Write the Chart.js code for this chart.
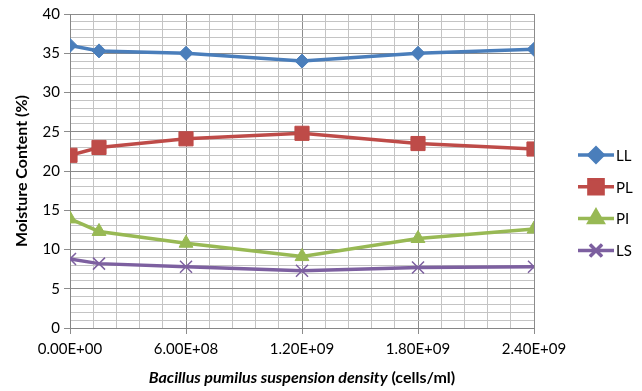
<!DOCTYPE html>
<html>
<head>
<meta charset="utf-8">
<script src="https://cdn.jsdelivr.net/npm/chart.js@4"></script>
<style>
  body { margin: 0; background: #fff; }
  #wrap { width: 642px; height: 391px; position: relative; }
</style>
</head>
<body>
<div id="wrap"><canvas id="moistureChart"></canvas></div>
<script>
// Suspension density (cells/ml)
const densities = [0, 1.5e8, 6e8, 1.2e9, 1.8e9, 2.4e9];

// Moisture content (%) per series
const llValues = [36.0, 35.3, 35.0, 34.0, 35.0, 35.5];
const plValues = [22.0, 23.0, 24.1, 24.8, 23.5, 22.8];
const piValues = [13.9, 12.3, 10.8, 9.1, 11.4, 12.6];
const lsValues = [8.8, 8.2, 7.8, 7.3, 7.7, 7.8];

const seriesNames = ["LL", "PL", "PI", "LS"];
const xTickLabels = ["0.00E+00", "6.00E+08", "1.20E+09", "1.80E+09", "2.40E+09"];

const FONT = "Lato, 'Liberation Sans', sans-serif";

function toPoints(values) {
  return values.map((v, i) => ({ x: densities[i], y: v }));
}

// Legend with line + marker, drawn to the right of the plot
const sideLegend = {
  id: "sideLegend",
  afterDraw(chart) {
    const ctx = chart.ctx;
    ctx.save();
    chart.data.datasets.forEach((ds, i) => {
      const y = 155 + i * 31.8;
      ctx.strokeStyle = ds.borderColor;
      ctx.lineWidth = 3.5;
      ctx.beginPath();
      ctx.moveTo(578, y);
      ctx.lineTo(614, y);
      ctx.stroke();
      Chart.helpers.drawPoint(ctx, {
        pointStyle: ds.pointStyle,
        radius: ds.pointRadius,
        borderWidth: ds.pointBorderWidth,
        rotation: 0
      }, 596, y);
      ctx.fillStyle = ds.borderColor;
      ctx.strokeStyle = ds.borderColor;
      ctx.lineWidth = ds.pointBorderWidth;
      ctx.fill();
      ctx.stroke();
      ctx.fillStyle = "#000";
      ctx.font = "15px " + FONT;
      ctx.textBaseline = "middle";
      ctx.textAlign = "left";
      ctx.fillText(seriesNames[i], 616, y + 1);
    });
    ctx.restore();
  }
};

// X axis title with mixed italic / upright parts
const xTitle = {
  id: "xTitle",
  afterDraw(chart) {
    const ctx = chart.ctx;
    ctx.save();
    const partA = "Bacillus pumilus suspension density";
    const partB = " (cells/ml)";
    ctx.font = "italic bold 16px " + FONT;
    const wA = ctx.measureText(partA).width;
    ctx.font = "bold 16px " + FONT;
    const wB = ctx.measureText(partB).width;
    const cx = (chart.chartArea.left + chart.chartArea.right) / 2;
    let x = cx - (wA + wB) / 2;
    const y = 378;
    ctx.fillStyle = "#000";
    ctx.textBaseline = "middle";
    ctx.textAlign = "left";
    ctx.font = "italic bold 16px " + FONT;
    ctx.fillText(partA, x, y);
    ctx.font = "bold 16px " + FONT;
    ctx.fillText(partB, x + wA, y);
    ctx.restore();
  }
};

const isMajorX = (v) => Math.abs(v / 6e8 - Math.round(v / 6e8)) < 1e-6;
const isMajorY = (v) => Math.abs(v / 5 - Math.round(v / 5)) < 1e-6;

const ctx = document.getElementById("moistureChart").getContext("2d");
new Chart(ctx, {
  type: "line",
  data: {
    datasets: [
      {
        label: "LL",
        data: toPoints(llValues),
        borderColor: "#4a7ebb",
        backgroundColor: "#4a7ebb",
        pointStyle: "rectRot",
        pointRadius: 7,
        pointBorderWidth: 1,
      },
      {
        label: "PL",
        data: toPoints(plValues),
        borderColor: "#be4b48",
        backgroundColor: "#be4b48",
        pointStyle: "rect",
        pointRadius: 10,
        pointBorderWidth: 1,
      },
      {
        label: "PI",
        data: toPoints(piValues),
        borderColor: "#98b954",
        backgroundColor: "#98b954",
        pointStyle: "triangle",
        pointRadius: 8,
        pointBorderWidth: 1,
      },
      {
        label: "LS",
        data: toPoints(lsValues),
        borderColor: "#7d60a0",
        backgroundColor: "#7d60a0",
        pointStyle: "crossRot",
        pointRadius: 8.5,
        pointBorderWidth: 1.5,
      },
    ],
  },
  options: {
    responsive: true,
    maintainAspectRatio: false,
    animation: false,
    layout: { padding: { top: 14, right: 108, left: 0, bottom: 0 } },
    elements: { line: { borderWidth: 3.5, tension: 0 } },
    plugins: {
      legend: { display: false },
      tooltip: { enabled: false },
    },
    scales: {
      x: {
        type: "linear",
        min: 0,
        max: 2.4e9,
        afterFit(scale) { scale.height = 63; },
        border: { color: "#868686" },
        grid: {
          color: (c) => (isMajorX(c.tick.value) ? "#8c8c8c" : "#c4c4c4"),
          tickColor: (c) => (isMajorX(c.tick.value) ? "#8c8c8c" : "rgba(0,0,0,0)"),
          tickLength: 6,
        },
        ticks: {
          stepSize: 1.2e8,
          autoSkip: false,
          maxRotation: 0,
          padding: 6,
          color: "#000",
          font: { family: FONT, size: 15 },
          callback: (v) => (isMajorX(v) ? xTickLabels[Math.round(v / 6e8)] : ""),
        },
      },
      y: {
        min: 0,
        max: 40,
        afterFit(scale) { scale.width = 70; },
        border: { color: "#868686" },
        grid: {
          color: (c) => (isMajorY(c.tick.value) ? "#8c8c8c" : "#c4c4c4"),
          tickColor: (c) => (isMajorY(c.tick.value) ? "#8c8c8c" : "rgba(0,0,0,0)"),
          tickLength: 6,
        },
        ticks: {
          stepSize: 1,
          autoSkip: false,
          padding: 4,
          color: "#000",
          font: { family: FONT, size: 15 },
          callback: (v) => (isMajorY(v) ? String(v) : ""),
        },
        title: {
          display: true,
          text: "Moisture Content (%)",
          color: "#000",
          font: { family: FONT, size: 16, weight: "bold" },
          padding: { top: 12, bottom: 4 },
        },
      },
    },
  },
  plugins: [sideLegend, xTitle],
});
</script>
</body>
</html>
